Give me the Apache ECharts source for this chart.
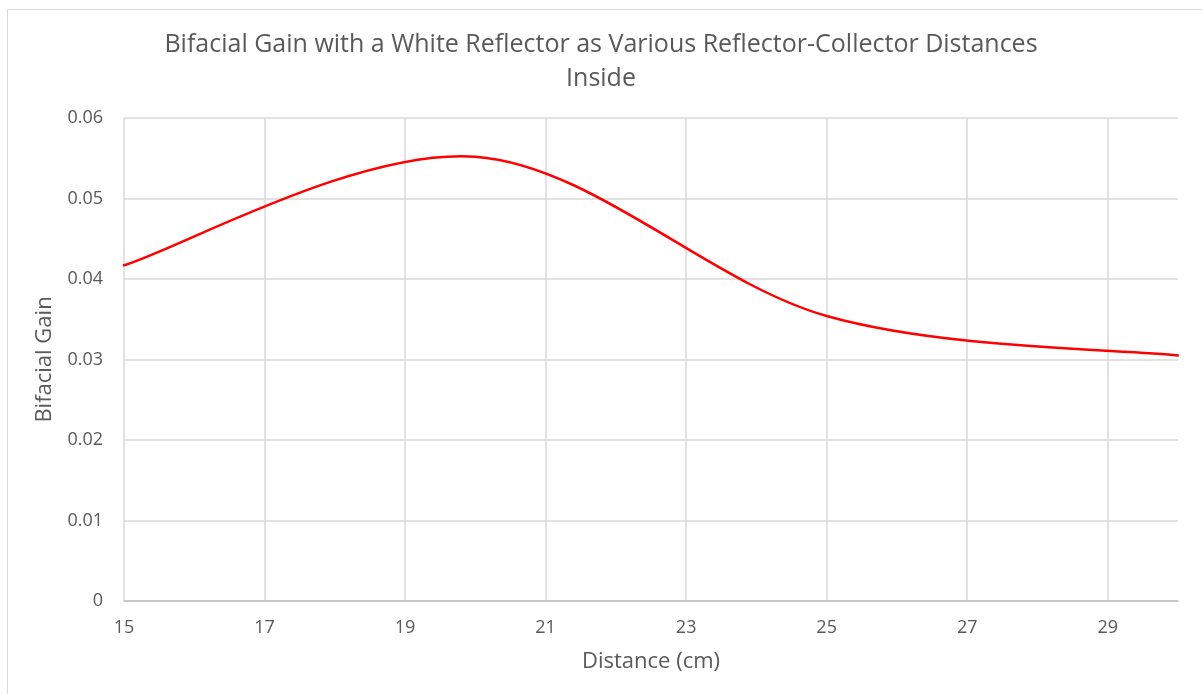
<!DOCTYPE html>
<html>
<head>
<meta charset="utf-8">
<script src="https://cdn.jsdelivr.net/npm/echarts@6/dist/echarts.min.js"></script>
<style>
  html, body { margin: 0; padding: 0; background: #ffffff; }
  #frame { position: absolute; left: 7px; top: 9px; width: 1210px; height: 700px; border: 1.5px solid #d9d9d9; box-sizing: border-box; }
  #chart { position: absolute; left: 0; top: 0; width: 1202px; height: 694px; }
</style>
</head>
<body>
<div id="frame"></div>
<div id="chart"></div>
<script>
const titleLines = ["Bifacial Gain with a White Reflector as Various Reflector-Collector Distances", "Inside"];
const xName = "Distance (cm)";
const yName = "Bifacial Gain";
const distances = [15, 20, 25, 30];
const gains = [0.0417, 0.0552, 0.0354, 0.0305];
const xTicks = [15, 17, 19, 21, 23, 25, 27, 29];
const yTicks = [0, 0.01, 0.02, 0.03, 0.04, 0.05, 0.06];

const chart = echarts.init(document.getElementById('chart'), null, { renderer: 'canvas' });
const textColor = '#595959';
const font = '"Open Sans", "Noto Sans", sans-serif';

// Smoothed curve (spreadsheet-style Catmull-Rom Bezier) through the data points,
// positioned with the chart's own axes via api.coord.
function renderCurve(params, api) {
  if (params.dataIndex !== 0) return null;
  const pts = distances.map((d, i) => api.coord([d, gains[i]]));
  let path = 'M' + pts[0][0] + ' ' + pts[0][1];
  for (let i = 0; i < pts.length - 1; i++) {
    const p0 = pts[i - 1] || pts[i];
    const p1 = pts[i];
    const p2 = pts[i + 1];
    const p3 = pts[i + 2] || pts[i + 1];
    const c1x = p1[0] + (p2[0] - p0[0]) / 6, c1y = p1[1] + (p2[1] - p0[1]) / 6;
    const c2x = p2[0] - (p3[0] - p1[0]) / 6, c2y = p2[1] - (p3[1] - p1[1]) / 6;
    path += ' C' + c1x + ' ' + c1y + ' ' + c2x + ' ' + c2y + ' ' + p2[0] + ' ' + p2[1];
  }
  return {
    type: 'path',
    shape: { pathData: path },
    style: { fill: 'none', stroke: '#ff0000', lineWidth: 2.5, lineJoin: 'round', lineCap: 'round' }
  };
}

chart.setOption({
  backgroundColor: 'transparent',
  animation: false,
  title: {
    text: titleLines.join('\n'),
    left: 'center',
    top: 23,
    textStyle: { color: textColor, fontSize: 25, fontWeight: 'normal', fontFamily: font, lineHeight: 34 }
  },
  grid: { left: 124, right: 24, top: 118, bottom: 93, containLabel: false },
  xAxis: {
    type: 'value',
    min: 15, max: 30,
    name: xName,
    nameLocation: 'middle',
    nameGap: 50,
    nameTextStyle: { color: textColor, fontSize: 22, fontFamily: font },
    axisLine: { show: true, lineStyle: { color: '#bfbfbf', width: 1.5 } },
    axisTick: { show: false, customValues: xTicks },
    axisLabel: { customValues: xTicks, color: textColor, fontSize: 18, fontFamily: font, margin: 18 },
    splitLine: { show: true, lineStyle: { color: '#d9d9d9', width: 1.5 } }
  },
  yAxis: {
    type: 'value',
    min: yTicks[0], max: yTicks[yTicks.length - 1], interval: 0.01,
    name: yName,
    nameLocation: 'middle',
    nameGap: 68,
    nameTextStyle: { color: textColor, fontSize: 22, fontFamily: font },
    axisLine: { show: false },
    axisTick: { show: false },
    axisLabel: { color: textColor, fontSize: 18, fontFamily: font, margin: 21 },
    splitLine: { show: true, lineStyle: { color: '#d9d9d9', width: 1.5 } }
  },
  series: [{
    type: 'custom',
    coordinateSystem: 'cartesian2d',
    data: distances.map((d, i) => [d, gains[i]]),
    encode: { x: 0, y: 1 },
    silent: true,
    renderItem: renderCurve
  }]
});
</script>
</body>
</html>
